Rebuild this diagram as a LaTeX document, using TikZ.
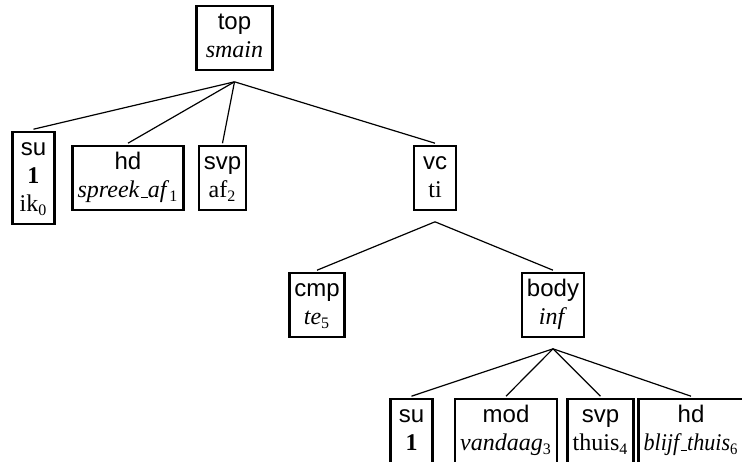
\documentclass[tikz,border=0pt]{standalone}
\usepackage{fontspec}
\setmainfont{Liberation Serif}
\setsansfont{Liberation Sans}
\usepackage{graphicx}
\usepackage{tikz}
\usetikzlibrary{calc}

% short underscore as in the old OT1 \_
\newcommand{\undsc}{\leavevmode\kern.06em\vbox{\hrule width.3em}}
% one line of a tree node: relation (sans) or word (serif)
\newcommand{\dtrel}[1]{\textsf{#1}\strut}
\newcommand{\dtword}[1]{#1\strut}

\tikzset{
dtbox/.style={draw, line width=1.2pt, align=center, inner xsep=2.5pt, inner ysep=1.9pt,
  minimum width=21pt, outer sep=1.5pt, font=\fontsize{12}{14}\selectfont},
dtedge/.style={line width=0.6pt}
}

\begin{document}
\begin{tikzpicture}[x=0.5pt, y=-0.5pt]
\useasboundingbox (0,0) rectangle (742,461);
\clip (0,0) rectangle (742,461);

\node[dtbox, minimum width=38pt] (top) at (234.5,38) {\dtrel{top}\\\dtword{\textit{smain}}};

\node[dtbox] (su1) at (33.5,178) {\dtrel{su}\\\dtword{\textbf{1}}\\\dtword{ik\textsubscript{0}}};
\node[dtbox] (hd1) at (128,178) {\dtrel{hd}\\\dtword{\textit{spreek\undsc af}\textsubscript{1}}};
\node[dtbox] (svp1) at (222.5,178) {\dtrel{svp}\\\dtword{af\textsubscript{2}}};
\node[dtbox] (vc) at (435,178) {\dtrel{vc}\\\dtword{ti}};

\node[dtbox] (cmp) at (317,305) {\dtrel{cmp}\\\dtword{\textit{te}\textsubscript{5}}};
\node[dtbox] (body) at (553,305) {\dtrel{body}\\\dtword{\textit{inf}}};

\node[dtbox] (su2) at (411.5,431) {\dtrel{su}\\\dtword{\textbf{1}}};
\node[dtbox] (mod) at (506,431) {\dtrel{mod}\\\dtword{\textit{vandaag}\textsubscript{3}}};
\node[dtbox] (svp2) at (600.5,431) {\dtrel{svp}\\\dtword{thuis\textsubscript{4}}};
% set a little narrower so that it keeps inside the right edge
\node[dtbox] (hd2) at (691,431) {\dtrel{hd}\\\dtword{\scalebox{0.92}[1]{\textit{blijf\undsc thuis}\textsubscript{6}}}};

% branching points under the mothers
\coordinate (topj) at ([yshift=-4.5pt]top.south);
\coordinate (vcj) at ([yshift=-4.5pt]vc.south);
\coordinate (bodyj) at ([yshift=-4.5pt]body.south);

\foreach \m/\d in {topj/su1,topj/hd1,topj/svp1,topj/vc,vcj/cmp,vcj/body,bodyj/su2,bodyj/mod,bodyj/svp2,bodyj/hd2}
\draw[dtedge] (\m) -- (\d.north);
\end{tikzpicture}
\end{document}
